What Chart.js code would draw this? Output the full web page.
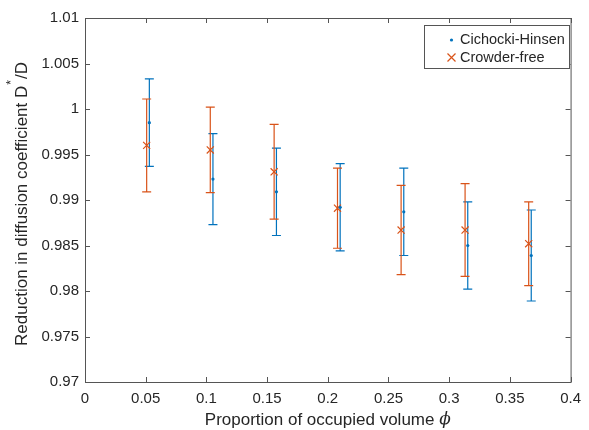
<!DOCTYPE html>
<html>
<head>
<meta charset="utf-8">
<script src="https://cdn.jsdelivr.net/npm/chart.js@4.4.0/dist/chart.umd.min.js"></script>
<style>
  html, body { margin: 0; padding: 0; background: #fff; }
  #wrap { width: 589px; height: 430px; }
</style>
</head>
<body>
<div id="wrap"><canvas id="errChart" width="589" height="430"></canvas></div>
<script>
const FONT = "'Liberation Sans', Arial, Helvetica, sans-serif";
const AXIS_COLOR = "#262626";
const BLUE = "#0072BD";
const ORANGE = "#D95319";

// Cichocki-Hinsen
const blueX = [0.053, 0.1054, 0.1577, 0.2102, 0.2626, 0.3153, 0.3676];
const blueY = [0.9985, 0.9923, 0.9909, 0.9892, 0.9887, 0.985, 0.9839];
const blueErr = [0.0048, 0.005, 0.0048, 0.0048, 0.0048, 0.0048, 0.005];

// Crowder-free
const orangeX = [0.0508, 0.1032, 0.1558, 0.208, 0.2604, 0.3131, 0.3655];
const orangeY = [0.996, 0.9955, 0.9931, 0.9891, 0.9867, 0.9867, 0.9852];
const orangeErr = [0.0051, 0.0047, 0.0052, 0.0044, 0.0049, 0.0051, 0.0046];

const seriesNames = ["Cichocki-Hinsen", "Crowder-free"];
const xTitle = "Proportion of occupied volume ";
const yTitle = ["Reduction in diffusion coefficient D", "*", "/D"];

const toPoints = (xs, ys) => xs.map((v, i) => ({ x: v, y: ys[i] }));

// vertical bars with caps, drawn under the markers
const errorBars = {
  id: "errorBars",
  beforeDatasetsDraw(chart) {
    const { ctx, scales: { x, y } } = chart;
    chart.data.datasets.forEach((ds) => {
      ctx.save();
      ctx.strokeStyle = ds.borderColor;
      ctx.lineWidth = 1.2;
      ds.data.forEach((p, i) => {
        const px = x.getPixelForValue(p.x);
        const top = y.getPixelForValue(p.y + ds.err[i]);
        const bot = y.getPixelForValue(p.y - ds.err[i]);
        ctx.beginPath();
        ctx.moveTo(px, top);
        ctx.lineTo(px, bot);
        ctx.moveTo(px - 4.5, top);
        ctx.lineTo(px + 4.5, top);
        ctx.moveTo(px - 4.5, bot);
        ctx.lineTo(px + 4.5, bot);
        ctx.stroke();
      });
      ctx.restore();
    });
  },
};

// box around the axes, ticks pointing inward, titles and legend
const frame = {
  id: "frame",
  afterDraw(chart) {
    const { ctx, chartArea: a, scales: { x, y } } = chart;
    ctx.save();
    ctx.strokeStyle = "#555";
    ctx.lineWidth = 1;
    ctx.strokeRect(a.left + 0.5, a.top + 0.5, a.right - a.left, a.bottom - a.top);
    ctx.beginPath();
    x.ticks.forEach((t) => {
      const px = Math.round(x.getPixelForValue(t.value)) + 0.5;
      ctx.moveTo(px, a.bottom);
      ctx.lineTo(px, a.bottom - 5);
      ctx.moveTo(px, a.top);
      ctx.lineTo(px, a.top + 5);
    });
    y.ticks.forEach((t) => {
      const py = Math.round(y.getPixelForValue(t.value)) + 0.5;
      ctx.moveTo(a.left, py);
      ctx.lineTo(a.left + 5, py);
      ctx.moveTo(a.right, py);
      ctx.lineTo(a.right - 5, py);
    });
    ctx.stroke();

    // x title
    ctx.fillStyle = AXIS_COLOR;
    ctx.font = "17px " + FONT;
    ctx.textBaseline = "middle";
    const cx = (a.left + a.right) / 2;
    const w1 = ctx.measureText(xTitle).width;
    ctx.font = "italic 17px 'DejaVu Serif', serif";
    const w2 = ctx.measureText("\u03d5").width;
    let sx = cx - (w1 + w2) / 2;
    ctx.font = "17px " + FONT;
    ctx.textAlign = "left";
    ctx.fillText(xTitle, sx, 420);
    ctx.font = "italic 17px 'DejaVu Serif', serif";
    ctx.fillText("\u03d5", sx + w1, 420);

    // y title, rotated
    ctx.save();
    ctx.translate(22, (a.top + a.bottom) / 2 + 4);
    ctx.rotate(-Math.PI / 2);
    ctx.font = "17px " + FONT;
    const m0 = ctx.measureText(yTitle[0]).width;
    ctx.font = "12px " + FONT;
    const m1 = ctx.measureText(yTitle[1]).width + 2;
    ctx.font = "17px " + FONT;
    const m2 = ctx.measureText(yTitle[2]).width;
    let ty = -(m0 + m1 + m2) / 2;
    ctx.fillText(yTitle[0], ty, 0);
    ctx.font = "12px " + FONT;
    ctx.fillText(yTitle[1], ty + m0 + 1, -10);
    ctx.font = "17px " + FONT;
    ctx.fillText(yTitle[2], ty + m0 + m1, 0);
    ctx.restore();

    // legend
    const lx = 424, ly = 25, lw = 145, lh = 43;
    ctx.fillStyle = "#fff";
    ctx.fillRect(lx, ly, lw, lh);
    ctx.strokeStyle = "#555";
    ctx.strokeRect(lx + 0.5, ly + 0.5, lw, lh);
    ctx.fillStyle = BLUE;
    ctx.beginPath();
    ctx.arc(451.5, 40, 1.6, 0, Math.PI * 2);
    ctx.fill();
    ctx.strokeStyle = ORANGE;
    ctx.lineWidth = 1.2;
    ctx.beginPath();
    ctx.moveTo(447.5, 53.5); ctx.lineTo(455.5, 61.5);
    ctx.moveTo(455.5, 53.5); ctx.lineTo(447.5, 61.5);
    ctx.stroke();
    ctx.fillStyle = AXIS_COLOR;
    ctx.font = "14.5px " + FONT;
    ctx.fillText(seriesNames[0], 460, 40);
    ctx.fillText(seriesNames[1], 460, 58);
    ctx.restore();
  },
};

const fmt = (v) => String(+(+v).toFixed(4));

new Chart(document.getElementById("errChart"), {
  type: "scatter",
  data: {
    datasets: [
      {
        label: seriesNames[0],
        data: toPoints(blueX, blueY),
        err: blueErr,
        borderColor: BLUE,
        backgroundColor: BLUE,
        pointStyle: "circle",
        pointRadius: 1.6,
        borderWidth: 0,
      },
      {
        label: seriesNames[1],
        data: toPoints(orangeX, orangeY),
        err: orangeErr,
        borderColor: ORANGE,
        backgroundColor: ORANGE,
        pointStyle: "crossRot",
        pointRadius: 5,
        borderWidth: 1.2,
      },
    ],
  },
  options: {
    responsive: false,
    animation: false,
    layout: { padding: { top: 18, right: 13, left: 0, bottom: 0 } },
    plugins: {
      legend: { display: false },
      tooltip: { enabled: false },
    },
    scales: {
      x: {
        type: "linear",
        min: 0,
        max: 0.4,
        grid: { display: false, drawTicks: false },
        border: { display: false },
        ticks: {
          stepSize: 0.05,
          autoSkip: false,
          maxRotation: 0,
          padding: 8,
          color: AXIS_COLOR,
          font: { family: FONT, size: 15 },
          callback: fmt,
        },
        afterFit: (s) => { s.height = 48; },
      },
      y: {
        type: "linear",
        min: 0.97,
        max: 1.01,
        grid: { display: false, drawTicks: false },
        border: { display: false },
        ticks: {
          stepSize: 0.005,
          autoSkip: false,
          padding: 6,
          color: AXIS_COLOR,
          font: { family: FONT, size: 15 },
          callback: fmt,
        },
        afterFit: (s) => { s.width = 85; },
      },
    },
  },
  plugins: [errorBars, frame],
});
</script>
</body>
</html>
